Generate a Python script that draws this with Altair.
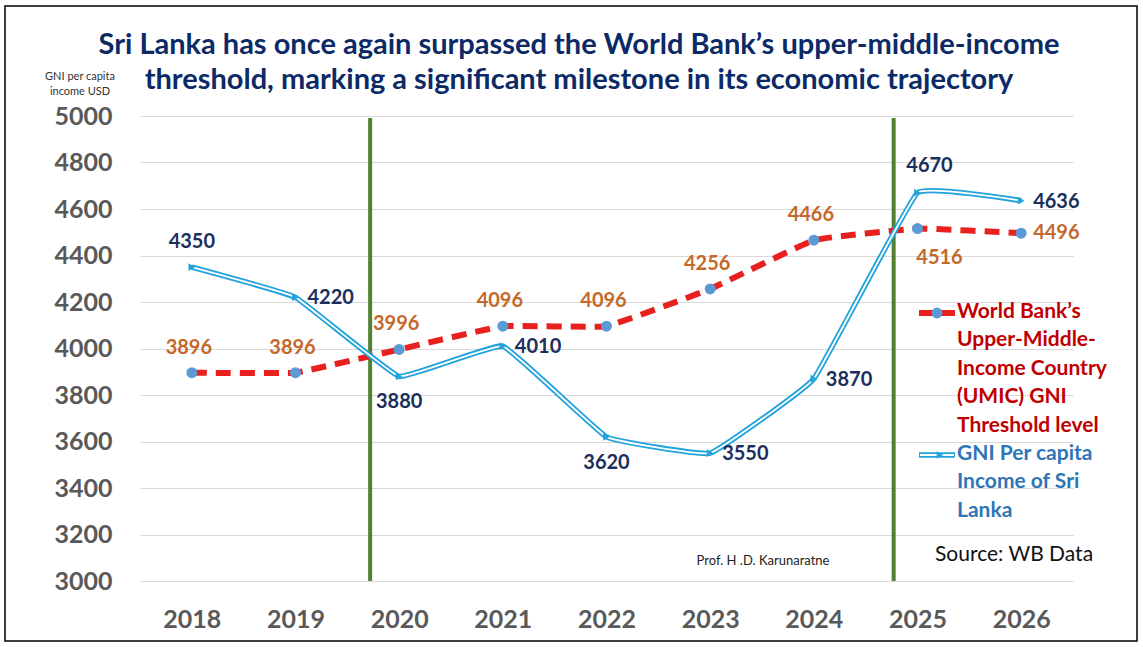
import altair as alt
import pandas as pd

# ---------------- data ----------------
years = [2018, 2019, 2020, 2021, 2022, 2023, 2024, 2025, 2026]
threshold = [3896, 3896, 3996, 4096, 4096, 4256, 4466, 4516, 4496]
gni = [4350, 4220, 3880, 4010, 3620, 3550, 3870, 4670, 4636]
y_ticks = [3000, 3200, 3400, 3600, 3800, 4000, 4200, 4400, 4600, 4800, 5000]
marker_years = [2019.72, 2024.77]

title_lines = [
    "Sri Lanka has once again surpassed the World Bank\u2019s upper-middle-income",
    "threshold, marking a significant milestone in its economic trajectory",
]
y_title = ["GNI per capita", "income USD"]
legend_red = ["World Bank\u2019s", "Upper-Middle-", "Income Country", "(UMIC) GNI", "Threshold level"]
legend_blue = ["GNI Per capita", "Income of Sri", "Lanka"]
credit = "Prof. H .D. Karunaratne"
source = "Source: WB Data"

# label placement groups
gni_above = [2018]
gni_above_right = [2025]
gni_right = [2019, 2021, 2023, 2024, 2026]
gni_below = [2020, 2022]
thr_above = [2018, 2019, 2020, 2021, 2022, 2023, 2024]
thr_below = [2025]
thr_right = [2026]

df = pd.DataFrame({"year": years, "threshold": threshold, "gni": gni})
df_mark = pd.DataFrame({"year": marker_years})

W, H = 933, 465
FONT = "Lato"
NAVY = "#1a2f5e"
ORANGE = "#c4692a"
RED = "#e8211f"
BLUE = "#22a3dc"
DOT = "#5b9bd5"
GREEN = "#548235"

xs = alt.Scale(domain=[2017.5, 2026.5], nice=False, zero=False)
ys = alt.Scale(domain=[3000, 5000], nice=False, zero=False)

x_axis = alt.Axis(values=years, format="d", grid=False, domain=False, ticks=False,
                  labelFontSize=25, labelFont=FONT, labelFontWeight="bold",
                  labelColor="#595959", labelPadding=26, title=None)
y_axis = alt.Axis(values=y_ticks, format="d", grid=True, gridColor="#d9d9d9", gridWidth=1,
                  domain=False, ticks=False, labelFontSize=25, labelFont=FONT,
                  labelFontWeight="bold", labelColor="#595959", labelPadding=28, title=None)

X = alt.X("year:Q", scale=xs, axis=x_axis)
Y_thr = alt.Y("threshold:Q", scale=ys, axis=y_axis)
Y_gni = alt.Y("gni:Q", scale=ys, axis=y_axis)

base = alt.Chart(df)

green = alt.Chart(df_mark).mark_rule(color=GREEN, strokeWidth=4).encode(
    x=alt.X("year:Q", scale=xs, axis=x_axis), y=alt.value(2), y2=alt.value(H)
)

LINE = dict(interpolate="cardinal", tension=0.75)

red_line = base.mark_line(color=RED, strokeWidth=6, strokeDash=[15, 9], **LINE).encode(x=X, y=Y_thr)
red_pts = base.mark_circle(size=120, color=DOT, opacity=1).encode(x=X, y=Y_thr)

blue_outer = base.mark_line(color=BLUE, strokeWidth=5.5, **LINE).encode(x=X, y=Y_gni)
blue_inner = base.mark_line(color="white", strokeWidth=1.8, **LINE).encode(x=X, y=Y_gni)
blue_pts = base.mark_point(shape="triangle-right", filled=True, size=60, color=BLUE,
                           opacity=1).encode(x=X, y=Y_gni)


def labels(field, yenc, yrs, color, align, dx, dy):
    return base.transform_filter(
        alt.FieldOneOfPredicate(field="year", oneOf=yrs)
    ).mark_text(font=FONT, fontSize=20, fontWeight="bold", color=color,
                align=align, baseline="middle", dx=dx, dy=dy).encode(
        x=X, y=yenc, text=alt.Text(f"{field}:Q", format="d"))


lab = [
    labels("gni", Y_gni, gni_above, NAVY, "center", 0, -25),
    labels("gni", Y_gni, gni_above_right, NAVY, "center", 12, -27),
    labels("gni", Y_gni, gni_right, NAVY, "left", 12, 1),
    labels("gni", Y_gni, gni_below, NAVY, "center", 0, 26),
    labels("threshold", Y_thr, thr_above, ORANGE, "center", -3, -25),
    labels("threshold", Y_thr, thr_below, ORANGE, "center", 22, 29),
    labels("threshold", Y_thr, thr_right, ORANGE, "left", 12, 0),
]


def note(text, x, y, size, color, weight="normal", align="center", baseline="middle",
         line_height=None):
    props = dict(font=FONT, fontSize=size, color=color, fontWeight=weight,
                 align=align, baseline=baseline)
    if line_height is not None:
        props["lineBreak"] = "\n"
        props["lineHeight"] = line_height
    return alt.Chart(pd.DataFrame({"t": [text]})).mark_text(**props).encode(
        text="t:N", x=alt.value(x), y=alt.value(y))


title1 = note(title_lines[0], 439, -71, 29, "#0b2a66", "bold")
title2 = note(title_lines[1], 439, -36, 29, "#0b2a66", "bold")
ytitle = note("\n".join(y_title), -60, -45, 11, "#333333", baseline="top", line_height=15)

leg_red_txt = note("\n".join(legend_red), 817, 185, 21, "#c00000", "bold",
                   align="left", baseline="top", line_height=28.4)
leg_blue_txt = note("\n".join(legend_blue), 817, 327, 21, "#2e75b6", "bold",
                    align="left", baseline="top", line_height=28.4)

one = alt.Chart(pd.DataFrame({"a": [0]}))
leg_red_line = one.mark_rule(color=RED, strokeWidth=6).encode(
    x=alt.value(779), x2=alt.value(815), y=alt.value(197))
leg_red_dot = one.mark_circle(size=120, color=DOT, opacity=1).encode(
    x=alt.value(797), y=alt.value(197))
leg_blue_outer = one.mark_rule(color=BLUE, strokeWidth=5.5).encode(
    x=alt.value(779), x2=alt.value(815), y=alt.value(339))
leg_blue_inner = one.mark_rule(color="white", strokeWidth=1.8).encode(
    x=alt.value(780), x2=alt.value(814), y=alt.value(339))
leg_blue_pt = one.mark_point(shape="triangle-right", filled=True, size=60, color=BLUE,
                             opacity=1).encode(x=alt.value(800), y=alt.value(339))

credit_txt = note(credit, 623, 445, 13, "#222222")
source_txt = note(source, 795, 439, 21, "#111111", align="left")

border = one.mark_rect(fill="transparent", stroke="black", strokeWidth=1.5).encode(
    x=alt.value(-135), x2=alt.value(997), y=alt.value(-110), y2=alt.value(525))

chart = alt.layer(
    border, green, red_line, blue_outer, blue_inner, red_pts, blue_pts, *lab,
    title1, title2, ytitle, leg_red_line, leg_red_dot, leg_blue_outer, leg_blue_inner,
    leg_blue_pt, leg_red_txt, leg_blue_txt, credit_txt, source_txt
).properties(
    width=W, height=H,
    autosize=alt.AutoSizeParams(type="none"),
    padding={"left": 140, "top": 116, "right": 70, "bottom": 66},
).configure(background="white").configure_view(stroke=None)

chart.save("out.html", embed_options={"renderer": "svg", "actions": False})
